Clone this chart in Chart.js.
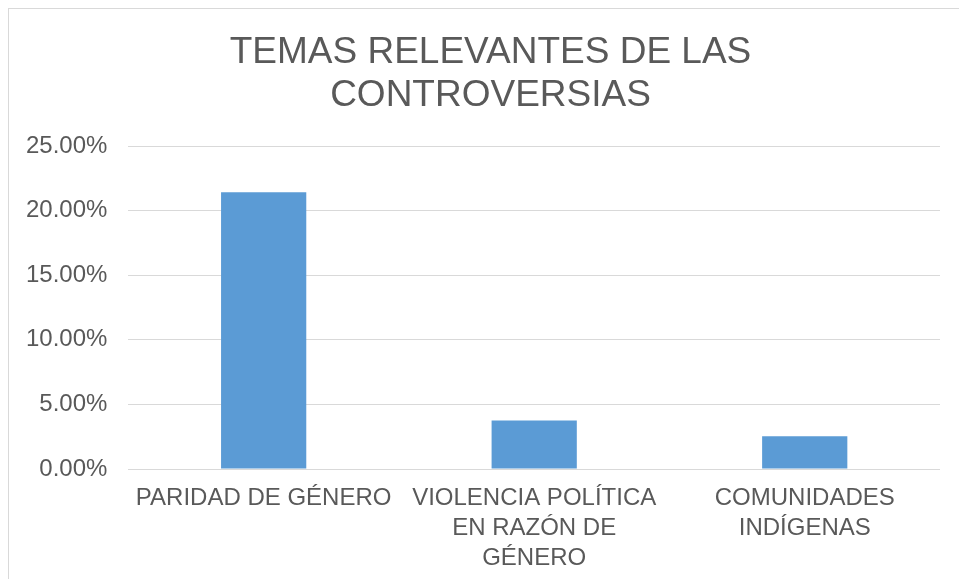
<!DOCTYPE html>
<html>
<head>
<meta charset="utf-8">
<script src="https://cdn.jsdelivr.net/npm/chart.js@4"></script>
<style>
  html, body { margin: 0; padding: 0; background: #fff; overflow: hidden; }
  #box { position: absolute; left: 8px; top: 8px; width: 960px; height: 580px; border: 1px solid #d9d9d9; }
  #wrap { position: absolute; left: -4px; top: 0; width: 954px; height: 576px; }
</style>
</head>
<body>
<div id="box"><div id="wrap"><canvas id="temasChart"></canvas></div></div>
<script>
// Chart data
const titleLines = ['TEMAS RELEVANTES DE LAS', 'CONTROVERSIAS'];
const categories = [
  'PARIDAD DE GÉNERO',
  ['VIOLENCIA POLÍTICA', 'EN RAZÓN DE', 'GÉNERO'],
  ['COMUNIDADES', 'INDÍGENAS']
];
const percentages = [21.43, 3.76, 2.53];
const yTicks = [0, 5, 10, 15, 20, 25];

const textColor = '#595959';
const gridColor = '#d9d9d9';

// nudge the title a little to the right, as in the original
const titleShift = {
  id: 'titleShift',
  afterLayout(chart) {
    if (chart.titleBlock) {
      chart.titleBlock.left += 36;
    }
  }
};

const ctx = document.getElementById('temasChart').getContext('2d');
new Chart(ctx, {
  type: 'bar',
  data: {
    labels: categories,
    datasets: [{
      label: 'Temas',
      data: percentages,
      backgroundColor: '#5b9bd5',
      borderWidth: 0,
      barPercentage: 0.63,
      categoryPercentage: 0.5
    }]
  },
  options: {
    responsive: true,
    maintainAspectRatio: false,
    animation: false,
    layout: {
      padding: { left: 0, right: 19, top: 0, bottom: 6 }
    },
    plugins: {
      legend: { display: false },
      tooltip: { enabled: false },
      title: {
        display: true,
        text: titleLines,
        color: textColor,
        font: { family: 'Liberation Sans, Arial, sans-serif', size: 37, weight: 'normal', lineHeight: 1.15 },
        padding: { top: 23, bottom: 29 }
      }
    },
    scales: {
      x: {
        grid: { display: false },
        border: { display: false },
        ticks: {
          color: textColor,
          maxRotation: 0,
          autoSkip: false,
          padding: 6,
          font: { family: 'Liberation Sans, Arial, sans-serif', size: 24, lineHeight: 1.25 }
        }
      },
      y: {
        min: 0,
        max: yTicks[yTicks.length - 1],
        afterBuildTicks: axis => { axis.ticks = yTicks.map(v => ({ value: v })); },
        grid: { color: gridColor, lineWidth: 1, drawTicks: false },
        border: { display: false },
        ticks: {
          color: textColor,
          padding: 21,
          callback: v => v.toFixed(2) + '%',
          font: { family: 'Liberation Sans, Arial, sans-serif', size: 24 }
        }
      }
    }
  },
  plugins: [titleShift]
});
</script>
</body>
</html>
